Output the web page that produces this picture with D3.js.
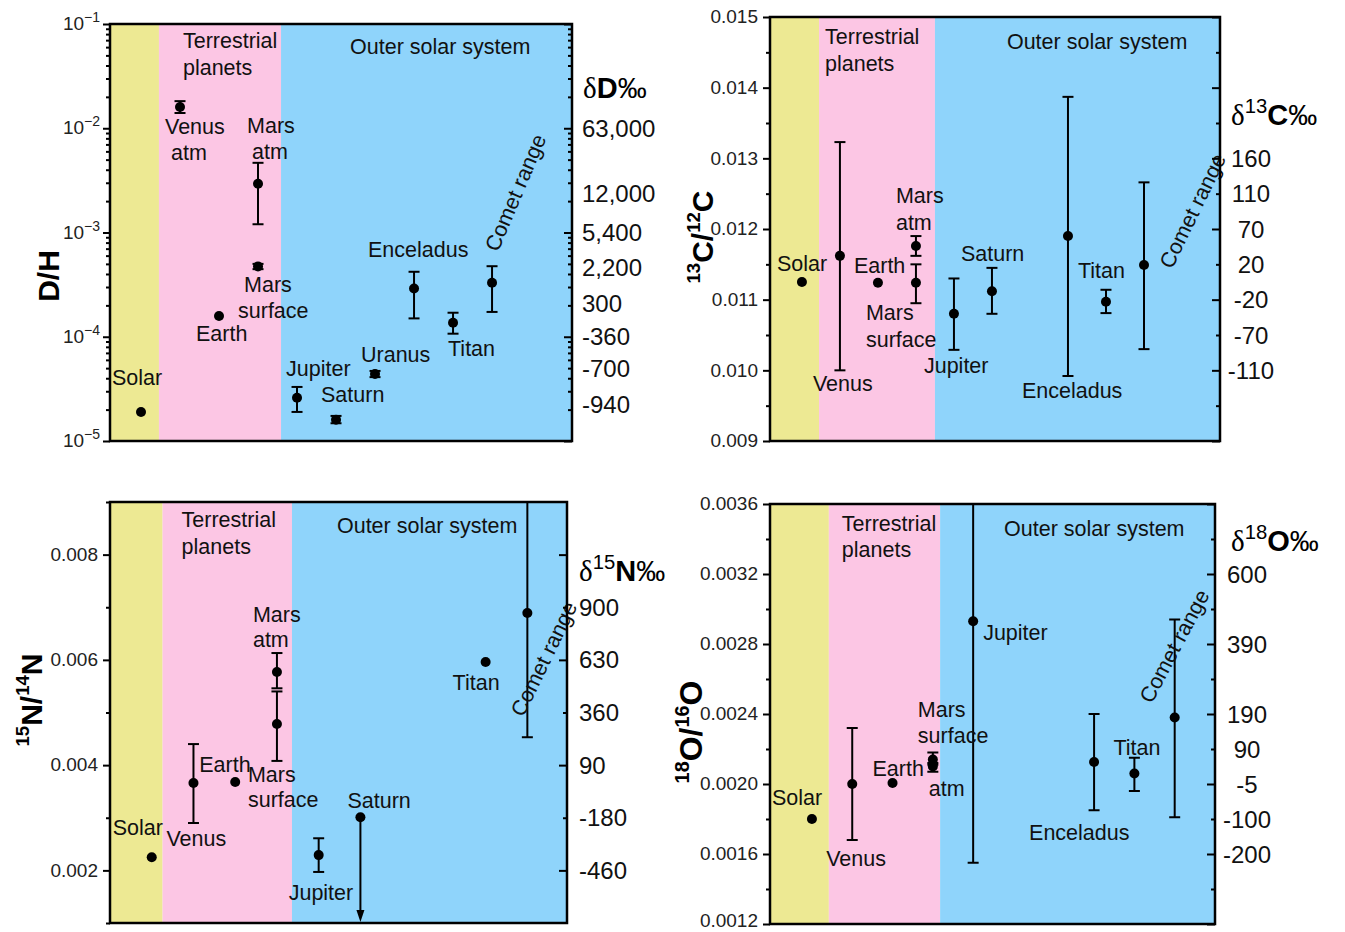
<!DOCTYPE html>
<html><head><meta charset="utf-8">
<script src="https://cdn.jsdelivr.net/npm/d3@7"></script>
<style>
body{margin:0;background:#fff;}
svg text{font-family:"Liberation Sans",Arial,sans-serif;}
</style></head><body>
<svg id="c" width="1345" height="932"></svg>
<script>
// ================= DATA =================
// category index: 0 Solar,1 Venus,2 Earth,3 Mars,4 Jupiter,5 Saturn,6 Uranus,7 Enceladus,8 Titan,9 Comet
// ---- D/H ----
const dhNames = ["Solar","Venus atm","Earth","Mars atm","Mars surface","Jupiter","Saturn","Uranus","Enceladus","Titan","Comet range"];
const dhCat   = [0,1,2,3,3,4,5,6,7,8,9];
const dhVal   = [1.9e-5,1.6e-2,1.58e-4,2.94e-3,4.73e-4,2.6e-5,1.6e-5,4.4e-5,2.9e-4,1.36e-4,3.3e-4];
const dhLo    = [null,1.4e-2,null,1.2e-3,4.45e-4,1.9e-5,1.48e-5,4.1e-5,1.5e-4,1.07e-4,1.73e-4];
const dhHi    = [null,1.82e-2,null,4.66e-3,5.0e-4,3.3e-5,1.74e-5,4.7e-5,4.2e-4,1.7e-4,4.75e-4];
const dDText  = ["63,000","12,000","5,400","2,200","300","-360","-700","-940"];
const dDAt    = [1e-2,2.36e-3,1e-3,4.62e-4,2.09e-4,1e-4,5.0e-5,2.24e-5];

// ---- 13C/12C ----
const cNames = ["Solar","Venus","Earth","Mars atm","Mars surface","Jupiter","Saturn","Enceladus","Titan","Comet range"];
const cCat   = [0,1,2,3,3,4,5,7,8,9];
const cVal   = [0.01125,0.01162,0.01124,0.01176,0.01124,0.0108,0.01112,0.0119,0.01097,0.01149];
const cLo    = [null,0.0100,null,0.01162,0.01095,0.01029,0.0108,0.00992,0.01081,0.0103];
const cHi    = [null,0.01323,null,0.0119,0.0115,0.0113,0.01145,0.01387,0.01114,0.01266];
const d13Text = ["160","110","70","20","-20","-70","-110"];
const d13At   = [0.013,0.0125,0.012,0.0115,0.011,0.0105,0.010];

// ---- 15N/14N ----
const nNames = ["Solar","Venus","Earth","Mars atm","Mars surface","Jupiter","Saturn","Titan","Comet range"];
const nCat   = [0,1,2,3,3,4,5,8,9];
const nVal   = [0.00225,0.00366,0.00368,0.00577,0.00478,0.00229,0.00301,0.00596,0.00689];
const nLo    = [null,0.0029,null,0.00546,0.00408,0.00197,null,null,0.00453];
const nHi    = [null,0.0044,null,0.00613,0.0054,0.00261,null,null,0.0095];
const nUpperLimit = [false,false,false,false,false,false,true,false,false];
const d15Text = ["900","630","360","90","-180","-460"];
const d15At   = [0.007,0.006,0.005,0.004,0.003,0.002];

// ---- 18O/16O ----
const oNames = ["Solar","Venus","Earth","Mars surface","Mars atm","Jupiter","Enceladus","Titan","Comet range"];
const oCat   = [0,1,2,3,3,4,7,8,9];
const oVal   = [0.0018,0.0020,0.002006,0.00214,0.0021,0.00293,0.002126,0.00206,0.00238];
const oLo    = [null,0.00168,null,0.00211,0.00207,0.00155,0.00185,0.00196,0.00181];
const oHi    = [null,0.00232,null,0.00218,0.00212,0.0038,0.0024,0.00215,0.00294];
const d18Text = ["600","390","190","90","-5","-100","-200"];
const d18At   = [0.0032,0.0028,0.0024,0.0022,0.0020,0.0018,0.0016];

// ================= LAYOUT =================
const svg = d3.select("#c");
const COL = ["#ede993","#fcc6e4","#8fd4fb"];
const LBL = 21.5;

function rich(sel, parts, size, supRatio){
  let shift = 0;
  parts.forEach(p=>{
    const fs = p.sup ? size*supRatio : size;
    const target = p.sup ? -size*0.42 : 0;
    const ts = sel.append("tspan").text(p.t).attr("font-size",fs).attr("dy", target - shift);
    shift = target;
    if(p.bold) ts.attr("font-weight","bold");
    if(p.serif) ts.attr("font-family","'Liberation Serif','DejaVu Serif',serif");
  });
}

function drawPanel(p){
  const g = svg.append("g");
  const x = d3.scaleLinear().domain(p.xDomain).range(p.xRange);
  const y = (p.log ? d3.scaleLog() : d3.scaleLinear()).domain(p.yDomain).range(p.yRange);
  const [x0,x1] = p.xRange, [yb,yt] = p.yRange;
  const edges = [p.xDomain[0], ...p.bands, p.xDomain[1]];
  g.selectAll("rect.band").data(COL).join("rect").attr("class","band")
    .attr("x",(d,i)=>x(edges[i])).attr("width",(d,i)=>x(edges[i+1])-x(edges[i]))
    .attr("y",yt).attr("height",yb-yt).attr("fill",d=>d);

  const cid = "clip"+p.id;
  svg.append("clipPath").attr("id",cid).append("rect")
    .attr("x",x0).attr("y",yt).attr("width",x1-x0).attr("height",yb-yt);

  const pts = p.cat.map((c,i)=>({c, v:p.val[i], lo:p.lo[i], hi:p.hi[i], up:p.upper?p.upper[i]:false}));
  const dg = g.append("g").attr("clip-path",`url(#${cid})`);
  const cap = 5.5;
  pts.forEach(d=>{
    const cx = x(d.c);
    if(d.lo!=null){
      dg.append("line").attr("x1",cx).attr("x2",cx).attr("y1",y(d.lo)).attr("y2",y(d.hi))
        .attr("stroke","#000").attr("stroke-width",2);
      [d.lo,d.hi].forEach(v=>dg.append("line").attr("x1",cx-cap).attr("x2",cx+cap)
        .attr("y1",y(v)).attr("y2",y(v)).attr("stroke","#000").attr("stroke-width",2));
    }
    if(d.up){
      const yEnd = y(p.yDomain[0]);
      dg.append("line").attr("x1",cx).attr("x2",cx).attr("y1",y(d.v)).attr("y2",yEnd-8)
        .attr("stroke","#000").attr("stroke-width",2);
      dg.append("path").attr("d",`M${cx-4},${yEnd-13}L${cx+4},${yEnd-13}L${cx},${yEnd-1}Z`).attr("fill","#000");
    }
  });
  dg.selectAll("circle").data(pts).join("circle")
    .attr("cx",d=>x(d.c)).attr("cy",d=>y(d.v)).attr("r",5).attr("fill","#000");

  // texts
  const tg = g.append("g").attr("font-size",LBL).attr("fill","#111");
  p.labels.forEach(l=>{
    const px = x(p.cat[l.ref]) + l.dx, py = y(p.val[l.ref]) + l.dy;
    const t = tg.append("text").text(l.t).attr("text-anchor", l.a || "start");
    if(l.rot) t.attr("transform",`translate(${px},${py}) rotate(${l.rot})`);
    else t.attr("x",px).attr("y",py);
  });
  p.regions.forEach(r=>{
    tg.append("text").text(r.t).attr("x", x(edges[r.band]) + r.dx).attr("y", yt + r.dy);
  });

  // axes
  const major = p.leftMajor, minor = p.leftMinor;
  const ax = g.append("g").attr("transform",`translate(${x0},0)`);
  ax.call(d3.axisLeft(y).tickValues(minor).tickSize(4).tickFormat(""));
  ax.call(g2=>g2.select(".domain").remove());
  const ax2 = g.append("g").attr("transform",`translate(${x0},0)`);
  ax2.call(d3.axisLeft(y).tickValues(major).tickSize(7).tickPadding(5).tickFormat(p.log?()=>"" : p.fmt));
  ax2.call(g2=>g2.select(".domain").remove());
  [ax,ax2].forEach(a=>a.selectAll("line").attr("stroke","#000").attr("stroke-width",2));
  ax2.selectAll("text").attr("font-size",19).attr("fill","#222").attr("dy","0.3em")
     .attr("font-family","'Liberation Sans',Arial,sans-serif");
  if(p.log){
    major.forEach(v=>{
      const t = g.append("text").attr("x",x0-10).attr("y",y(v)+6).attr("text-anchor","end")
        .attr("fill","#222").attr("font-size",19);
      t.append("tspan").text("10");
      t.append("tspan").text("\u2212"+Math.round(-Math.log10(v))).attr("font-size",14).attr("dy",-8);
    });
  }
  // right axis (ticks inward)
  const ar = g.append("g").attr("transform",`translate(${x1},0)`);
  ar.call(d3.axisRight(y).tickValues(p.rightMinor).tickSize(-4).tickFormat(""));
  ar.call(g2=>g2.select(".domain").remove());
  const ar2 = g.append("g").attr("transform",`translate(${x1},0)`);
  ar2.call(d3.axisRight(y).tickValues(p.rightMajor).tickSize(-8).tickFormat(""));
  ar2.call(g2=>g2.select(".domain").remove());
  [ar,ar2].forEach(a=>a.selectAll("line").attr("stroke","#000").attr("stroke-width",2));
  p.rightVals.forEach((v,i)=>{
    g.append("text").text(p.rightText[i]).attr("x",x1+p.rightDx).attr("y",y(v)+8.5)
      .attr("text-anchor",p.rightAnchor).attr("font-size",24).attr("fill","#111");
  });

  // frame
  g.append("rect").attr("x",x0).attr("y",yt).attr("width",x1-x0).attr("height",yb-yt)
    .attr("fill","none").attr("stroke","#000").attr("stroke-width",2.5);

  // titles
  const lt = g.append("text").attr("text-anchor","middle")
    .attr("transform",`translate(${p.leftTitle.x},${p.leftTitle.y}) rotate(-90)`).attr("fill","#000");
  rich(lt, p.leftTitle.parts, p.leftTitle.size, 0.62);
  const rt = g.append("text").attr("x",p.rightTitle.x).attr("y",p.rightTitle.y).attr("fill","#000");
  rich(rt, p.rightTitle.parts, p.rightTitle.size, 0.7);
}

function range(a,b,s){ const r=[]; for(let v=a; v<=b+s/1e6; v+=s) r.push(+v.toFixed(6)); return r; }

// ---- panel 1: D/H ----
const dhY = d3.scaleLog().domain([1e-5,1e-1]);
const dhMajor = [1e-5,1e-4,1e-3,1e-2,1e-1];
const dhMinor = dhY.ticks().filter(v=>!dhMajor.some(m=>Math.abs(m-v)/m<1e-6));
drawPanel({
  id:1, log:true, xDomain:[-0.795,11.05], xRange:[110,572], yDomain:[1e-5,1e-1], yRange:[441,24],
  bands:[0.46,3.59], cat:dhCat, val:dhVal, lo:dhLo, hi:dhHi,
  leftMajor:dhMajor, leftMinor:dhMinor, rightMajor:dhMajor, rightMinor:dhMinor,
  rightVals:dDAt, rightText:dDText, rightAnchor:"start", rightDx:10,
  leftTitle:{parts:[{t:"D/H",bold:true}], x:59, y:276, size:30},
  rightTitle:{parts:[{t:"\u03b4",serif:true},{t:"D",bold:true},{t:"\u2030"}], x:583, y:98, size:29},
  labels:[
    {t:"Solar",ref:0,dx:-29,dy:-27},
    {t:"Venus",ref:1,dx:-15,dy:27},{t:"atm",ref:1,dx:-9,dy:53},
    {t:"Earth",ref:2,dx:-23,dy:25},
    {t:"Mars",ref:3,dx:-11,dy:-51},{t:"atm",ref:3,dx:-6,dy:-25},
    {t:"Mars",ref:4,dx:-14,dy:26},{t:"surface",ref:4,dx:-20,dy:52},
    {t:"Jupiter",ref:5,dx:-11,dy:-22},
    {t:"Saturn",ref:6,dx:-15,dy:-18},
    {t:"Uranus",ref:7,dx:-14,dy:-12},
    {t:"Enceladus",ref:8,dx:-46,dy:-32},
    {t:"Titan",ref:9,dx:-5,dy:33},
    {t:"Comet range",ref:10,dx:6,dy:-30,rot:-67}
  ],
  regions:[{t:"Terrestrial",band:1,dx:24,dy:24},{t:"planets",band:1,dx:24,dy:51},{t:"Outer solar system",band:2,dx:69,dy:30}]
});

// ---- panel 2: 13C/12C ----
drawPanel({
  id:2, xDomain:[-0.84,11.0], xRange:[770,1220], yDomain:[0.009,0.015], yRange:[441,17],
  bands:[0.45,3.5], cat:cCat, val:cVal, lo:cLo, hi:cHi,
  leftMajor:range(0.009,0.015,0.001), leftMinor:range(0.0095,0.0145,0.001), fmt:d3.format(".3f"),
  rightMajor:range(0.009,0.015,0.001), rightMinor:range(0.0095,0.0145,0.001),
  rightVals:d13At, rightText:d13Text, rightAnchor:"middle", rightDx:31,
  leftTitle:{parts:[{t:"13",sup:true,bold:true},{t:"C/",bold:true},{t:"12",sup:true,bold:true},{t:"C",bold:true}], x:713, y:237, size:30},
  rightTitle:{parts:[{t:"\u03b4",serif:true},{t:"13",sup:true},{t:"C",bold:true},{t:"\u2030"}], x:1231, y:125, size:29},
  labels:[
    {t:"Solar",ref:0,dx:-25,dy:-11},
    {t:"Venus",ref:1,dx:-27,dy:135},
    {t:"Earth",ref:2,dx:-24,dy:-10},
    {t:"Mars",ref:3,dx:-20,dy:-43},{t:"atm",ref:3,dx:-20,dy:-16},
    {t:"Mars",ref:4,dx:-50,dy:37},{t:"surface",ref:4,dx:-50,dy:64},
    {t:"Jupiter",ref:5,dx:-30,dy:59},
    {t:"Saturn",ref:6,dx:-31,dy:-30},
    {t:"Enceladus",ref:7,dx:-46,dy:162},
    {t:"Titan",ref:8,dx:-28,dy:-24},
    {t:"Comet range",ref:9,dx:28,dy:5,rot:-64}
  ],
  regions:[{t:"Terrestrial",band:1,dx:6,dy:27},{t:"planets",band:1,dx:6,dy:54},{t:"Outer solar system",band:2,dx:72,dy:32}]
});

// ---- panel 3: 15N/14N ----
drawPanel({
  id:3, xDomain:[-1.0,9.95], xRange:[110,567], yDomain:[0.001,0.009], yRange:[923,502],
  bands:[0.26,3.36], cat:nCat, val:nVal, lo:nLo, hi:nHi, upper:nUpperLimit,
  leftMajor:range(0.002,0.008,0.002), leftMinor:range(0.001,0.009,0.002), fmt:d3.format(".3f"),
  rightMajor:range(0.002,0.008,0.002), rightMinor:range(0.003,0.007,0.002),
  rightVals:d15At, rightText:d15Text, rightAnchor:"start", rightDx:12,
  leftTitle:{parts:[{t:"15",sup:true,bold:true},{t:"N/",bold:true},{t:"14",sup:true,bold:true},{t:"N",bold:true}], x:42, y:700, size:30},
  rightTitle:{parts:[{t:"\u03b4",serif:true},{t:"15",sup:true},{t:"N",bold:true},{t:"\u2030"}], x:579, y:581, size:29},
  labels:[
    {t:"Solar",ref:0,dx:-39,dy:-22},
    {t:"Venus",ref:1,dx:-27,dy:63},
    {t:"Earth",ref:2,dx:-36,dy:-10},
    {t:"Mars",ref:3,dx:-24,dy:-50},{t:"atm",ref:3,dx:-24,dy:-25},
    {t:"Mars",ref:4,dx:-29,dy:58},{t:"surface",ref:4,dx:-29,dy:83},
    {t:"Jupiter",ref:5,dx:-30,dy:45},
    {t:"Saturn",ref:6,dx:-13,dy:-9},
    {t:"Titan",ref:7,dx:-33,dy:28},
    {t:"Comet range",ref:8,dx:-4,dy:105,rot:-64}
  ],
  regions:[{t:"Terrestrial",band:1,dx:19,dy:25},{t:"planets",band:1,dx:19,dy:52},{t:"Outer solar system",band:2,dx:45,dy:31}]
});

// ---- panel 4: 18O/16O ----
drawPanel({
  id:4, xDomain:[-1.04,10.0], xRange:[770,1215], yDomain:[0.0012,0.0036], yRange:[924,504],
  bands:[0.42,3.18], cat:oCat, val:oVal, lo:oLo, hi:oHi,
  leftMajor:range(0.0012,0.0036,0.0004), leftMinor:range(0.0014,0.0034,0.0004), fmt:d3.format(".4f"),
  rightMajor:range(0.0012,0.0036,0.0004), rightMinor:range(0.0014,0.0034,0.0004),
  rightVals:d18At, rightText:d18Text, rightAnchor:"middle", rightDx:32,
  leftTitle:{parts:[{t:"18",sup:true,bold:true},{t:"O/",bold:true},{t:"16",sup:true,bold:true},{t:"O",bold:true}], x:702, y:732, size:32},
  rightTitle:{parts:[{t:"\u03b4",serif:true},{t:"18",sup:true},{t:"O",bold:true},{t:"\u2030"}], x:1231, y:551, size:29},
  labels:[
    {t:"Solar",ref:0,dx:-40,dy:-14},
    {t:"Venus",ref:1,dx:-26,dy:82},
    {t:"Earth",ref:2,dx:-20,dy:-7},
    {t:"Mars",ref:3,dx:-15,dy:-43},{t:"surface",ref:3,dx:-15,dy:-17},
    {t:"atm",ref:4,dx:-4,dy:29},
    {t:"Jupiter",ref:5,dx:10,dy:19},
    {t:"Enceladus",ref:6,dx:-65,dy:78},
    {t:"Titan",ref:7,dx:-21,dy:-19},
    {t:"Comet range",ref:8,dx:-23,dy:-13,rot:-62}
  ],
  regions:[{t:"Terrestrial",band:1,dx:13,dy:27},{t:"planets",band:1,dx:13,dy:53},{t:"Outer solar system",band:2,dx:64,dy:32}]
});

// keep every text inside the canvas
svg.selectAll("text").each(function(){
  const b = this.getBoundingClientRect();
  if(b.bottom > 931){
    const sel = d3.select(this);
    const cur = sel.attr("transform") || "";
    sel.attr("transform", `translate(0,${(931 - b.bottom).toFixed(1)}) ` + cur);
  }
});
</script></body></html>
